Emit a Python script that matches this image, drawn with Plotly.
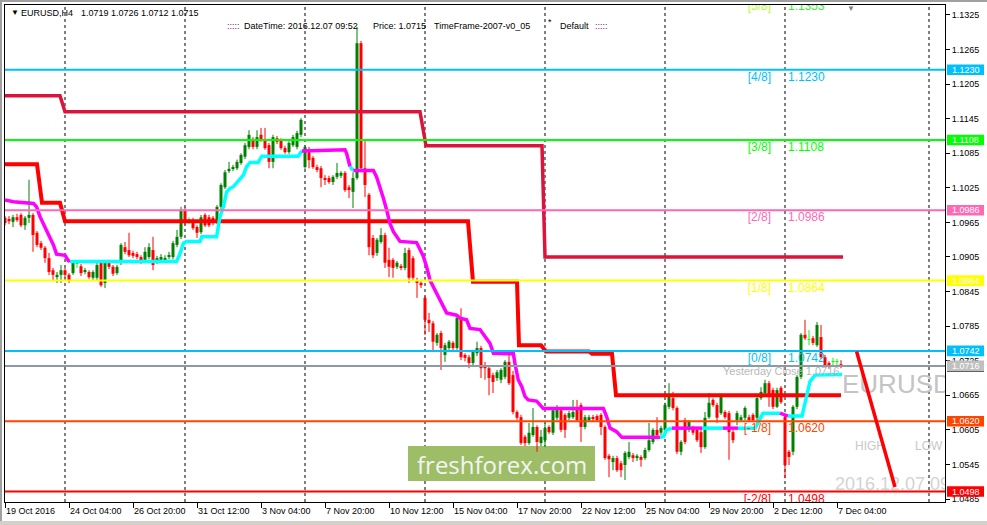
import plotly.graph_objects as go

# ---------------- data (EURUSD H4, bar index 0 = 19 Oct 2016 12:00) ----------------
bar_open = [1.0973,1.0971,1.0966,1.0974,1.0978,1.0960,1.0973,1.0978,1.0947,1.0929,
1.0921,1.0903,1.0882,1.0870,1.0874,1.0882,1.0874,1.0877,1.0893,1.0889,
1.0879,1.0879,1.0869,1.0869,1.0895,1.0860,1.0896,1.0888,1.0877,1.0895,
1.0922,1.0917,1.0912,1.0910,1.0905,1.0900,1.0905,1.0917,1.0896,1.0900,
1.0900,1.0905,1.0905,1.0926,1.0940,1.0987,1.0968,1.0969,1.0957,1.0948,
1.0978,1.0974,1.0973,1.0966,1.0992,1.1026,1.1054,1.1058,1.1059,1.1068,
1.1079,1.1096,1.1108,1.1096,1.1117,1.1108,1.1099,1.1070,1.1111,1.1108,
1.1094,1.1087,1.1099,1.1096,1.1117,1.1061,1.1087,1.1077,1.1061,1.1059,
1.1042,1.1042,1.1035,1.1044,1.1046,1.1051,1.1026,1.1018,1.1042,1.1276,
1.1059,1.1013,1.0938,1.0912,1.0931,1.0943,1.0900,1.0900,1.0888,1.0889,
1.0886,1.0917,1.0903,1.0865,1.0860,1.0834,1.0796,1.0790,1.0756,1.0773,
1.0735,1.0747,1.0756,1.0747,1.0799,1.0735,1.0731,1.0721,1.0738,1.0747,
1.0716,1.0712,1.0700,1.0695,1.0692,1.0697,1.0723,1.0700,1.0636,1.0627,
1.0593,1.0582,1.0596,1.0610,1.0582,1.0587,1.0610,1.0600,1.0626,1.0639,
1.0631,1.0626,1.0627,1.0643,1.0648,1.0610,1.0622,1.0627,1.0629,1.0631,
1.0610,1.0560,1.0549,1.0556,1.0547,1.0544,1.0558,1.0561,1.0556,1.0558,
1.0556,1.0570,1.0584,1.0605,1.0600,1.0605,1.0645,1.0660,1.0643,1.0567,
1.0622,1.0605,1.0608,1.0605,1.0601,1.0575,1.0627,1.0657,1.0648,1.0634,
1.0636,1.0634,1.0601,1.0622,1.0622,1.0626,1.0627,1.0631,1.0626,1.0660,
1.0669,1.0686,1.0674,1.0645,1.0678,1.0627,1.0567,1.0567,1.0645,1.0697,
1.0770,1.0761,1.0764,1.0752,1.0766,1.0731,1.0721,1.0723,1.0723,1.0719]
bar_high = [1.0976,1.0976,1.0978,1.0980,1.0981,1.0976,1.1039,1.0981,1.0950,1.0933,
1.0924,1.0912,1.0886,1.0879,1.0891,1.0886,1.0877,1.0898,1.0898,1.0893,
1.0886,1.0882,1.0882,1.0895,1.0896,1.0898,1.0900,1.0891,1.0891,1.0929,
1.0931,1.0947,1.0916,1.0914,1.0908,1.0922,1.0929,1.0940,1.0907,1.0910,
1.0908,1.0914,1.0933,1.0952,1.0992,1.0992,1.0974,1.0973,1.0960,1.0978,
1.0981,1.0978,1.0976,1.0995,1.1033,1.1056,1.1070,1.1065,1.1074,1.1085,
1.1103,1.1125,1.1113,1.1125,1.1129,1.1129,1.1103,1.1117,1.1115,1.1111,
1.1098,1.1106,1.1117,1.1124,1.1146,1.1099,1.1096,1.1080,1.1065,1.1063,
1.1047,1.1046,1.1047,1.1068,1.1054,1.1054,1.1030,1.1052,1.1304,1.1280,
1.1108,1.1016,1.0943,1.0938,1.0955,1.0947,1.0921,1.0903,1.0898,1.0893,
1.0921,1.0921,1.0907,1.0869,1.0863,1.0837,1.0808,1.0794,1.0773,1.0777,
1.0756,1.0761,1.0759,1.0803,1.0816,1.0738,1.0735,1.0744,1.0758,1.0751,
1.0723,1.0716,1.0704,1.0709,1.0712,1.0726,1.0740,1.0707,1.0639,1.0631,
1.0596,1.0617,1.0643,1.0613,1.0605,1.0617,1.0613,1.0643,1.0648,1.0643,
1.0634,1.0638,1.0657,1.0657,1.0652,1.0631,1.0631,1.0631,1.0632,1.0634,
1.0613,1.0563,1.0560,1.0560,1.0551,1.0568,1.0584,1.0565,1.0563,1.0561,
1.0574,1.0617,1.0608,1.0627,1.0612,1.0652,1.0686,1.0671,1.0646,1.0587,
1.0626,1.0622,1.0612,1.0608,1.0608,1.0636,1.0669,1.0660,1.0652,1.0665,
1.0639,1.0638,1.0605,1.0638,1.0631,1.0646,1.0631,1.0634,1.0664,1.0679,
1.0692,1.0690,1.0678,1.0678,1.0681,1.0631,1.0570,1.0648,1.0700,1.0773,
1.0796,1.0778,1.0768,1.0792,1.0787,1.0735,1.0724,1.0730,1.0728,1.0726]
bar_low = [1.0960,1.0962,1.0957,1.0966,1.0957,1.0952,1.0964,1.0914,1.0922,1.0917,
1.0895,1.0874,1.0865,1.0860,1.0860,1.0869,1.0860,1.0874,1.0886,1.0872,
1.0875,1.0867,1.0865,1.0865,1.0853,1.0851,1.0884,1.0872,1.0874,1.0891,
1.0910,1.0905,1.0903,1.0901,1.0893,1.0896,1.0901,1.0882,1.0893,1.0896,
1.0896,1.0901,1.0901,1.0922,1.0936,1.0960,1.0962,1.0952,1.0938,1.0945,
1.0957,1.0957,1.0960,1.0962,1.0988,1.1023,1.1051,1.1054,1.1056,1.1065,
1.1075,1.1092,1.1092,1.1092,1.1105,1.1091,1.1059,1.1059,1.1101,1.1091,
1.1084,1.1084,1.1096,1.1092,1.1113,1.1058,1.1059,1.1058,1.1052,1.1026,
1.1030,1.1032,1.1030,1.1040,1.1042,1.1018,1.1007,1.0990,1.1039,1.1052,
1.1009,1.0908,1.0903,1.0907,1.0928,1.0886,1.0870,1.0869,1.0884,1.0882,
1.0882,1.0860,1.0865,1.0834,1.0851,1.0770,1.0775,1.0740,1.0751,1.0709,
1.0723,1.0744,1.0742,1.0744,1.0726,1.0724,1.0712,1.0716,1.0733,1.0695,
1.0692,1.0665,1.0669,1.0690,1.0686,1.0693,1.0683,1.0632,1.0622,1.0579,
1.0577,1.0579,1.0593,1.0567,1.0577,1.0575,1.0598,1.0596,1.0622,1.0601,
1.0591,1.0622,1.0624,1.0619,1.0584,1.0606,1.0619,1.0620,1.0619,1.0596,
1.0553,1.0523,1.0535,1.0532,1.0523,1.0518,1.0554,1.0549,1.0551,1.0541,
1.0553,1.0567,1.0580,1.0593,1.0596,1.0601,1.0641,1.0639,1.0563,1.0561,
1.0580,1.0601,1.0596,1.0584,1.0565,1.0572,1.0624,1.0645,1.0617,1.0631,
1.0624,1.0553,1.0582,1.0613,1.0619,1.0622,1.0619,1.0619,1.0622,1.0657,
1.0665,1.0645,1.0641,1.0643,1.0650,1.0521,1.0544,1.0561,1.0641,1.0693,
1.0761,1.0752,1.0752,1.0749,1.0728,1.0714,1.0711,1.0716,1.0716,1.0712]
bar_close = [1.0964,1.0967,1.0974,1.0969,1.0960,1.0973,1.0978,1.0943,1.0926,1.0921,
1.0903,1.0879,1.0874,1.0874,1.0882,1.0874,1.0865,1.0895,1.0893,1.0877,
1.0882,1.0870,1.0879,1.0891,1.0856,1.0895,1.0888,1.0876,1.0888,1.0926,
1.0914,1.0908,1.0907,1.0905,1.0896,1.0914,1.0922,1.0891,1.0903,1.0905,
1.0903,1.0908,1.0929,1.0940,1.0987,1.0966,1.0968,1.0955,1.0947,1.0974,
1.0960,1.0960,1.0964,1.0992,1.1030,1.1052,1.1058,1.1061,1.1070,1.1082,
1.1099,1.1117,1.1096,1.1113,1.1108,1.1094,1.1070,1.1113,1.1105,1.1094,
1.1087,1.1103,1.1113,1.1120,1.1143,1.1096,1.1073,1.1061,1.1056,1.1042,
1.1039,1.1035,1.1044,1.1051,1.1051,1.1021,1.1021,1.1042,1.1276,1.1059,
1.1030,1.0922,1.0908,1.0935,1.0943,1.0895,1.0888,1.0886,1.0895,1.0886,
1.0912,1.0869,1.0869,1.0860,1.0856,1.0796,1.0790,1.0758,1.0770,1.0747,
1.0752,1.0758,1.0747,1.0799,1.0731,1.0730,1.0721,1.0740,1.0747,1.0712,
1.0712,1.0695,1.0688,1.0705,1.0709,1.0723,1.0686,1.0636,1.0626,1.0582,
1.0582,1.0600,1.0610,1.0584,1.0593,1.0608,1.0601,1.0639,1.0643,1.0605,
1.0605,1.0634,1.0636,1.0622,1.0610,1.0627,1.0627,1.0624,1.0622,1.0610,
1.0556,1.0554,1.0556,1.0535,1.0535,1.0565,1.0567,1.0556,1.0560,1.0553,
1.0570,1.0587,1.0605,1.0596,1.0608,1.0648,1.0665,1.0643,1.0567,1.0584,
1.0584,1.0619,1.0600,1.0587,1.0575,1.0626,1.0652,1.0648,1.0626,1.0662,
1.0627,1.0601,1.0587,1.0634,1.0627,1.0643,1.0622,1.0622,1.0660,1.0671,
1.0686,1.0662,1.0645,1.0674,1.0653,1.0544,1.0558,1.0645,1.0697,1.0770,
1.0764,1.0761,1.0756,1.0787,1.0731,1.0716,1.0714,1.0723,1.0723,1.0715]

x_label_bars = [0, 16, 32, 48, 64, 80, 96, 112, 128, 144, 160, 176, 192, 208]
x_label_text = ["19 Oct 2016", "24 Oct 04:00", "26 Oct 20:00", "31 Oct 12:00", "3 Nov 04:00",
                "7 Nov 20:00", "10 Nov 12:00", "15 Nov 04:00", "17 Nov 20:00", "22 Nov 12:00",
                "25 Nov 04:00", "29 Nov 20:00", "2 Dec 12:00", "7 Dec 04:00"]
week_start_bars = [15, 45, 75, 105, 135, 165, 195, 231]
y_tick_vals = [1.1325, 1.1265, 1.1205, 1.1145, 1.1085, 1.1025, 1.0965, 1.0905, 1.0845,
               1.0785, 1.0725, 1.0665, 1.0605, 1.0545, 1.0485]

mm_levels = [1.1353, 1.1230, 1.1108, 1.0986, 1.0864, 1.0742, 1.0620, 1.0498]
mm_names = ["[5/8]", "[4/8]", "[3/8]", "[2/8]", "[1/8]", "[0/8]", "[-1/8]", "[-2/8]"]
mm_colors = ["#33EE33", "#00BFFF", "#00FF00", "#FF69B4", "#FFFF00", "#00BFFF", "#FF4500", "#FF0000"]
mm_name_colors = ["#B4FF20", "#00BFFF", "#00FF00", "#FF69B4", "#FFFF00", "#00BFFF", "#FF4500", "#FF0000"]
yesterday_close = 1.0716
bid_price = 1.0715
header_ohlc = "1.0719 1.0726 1.0712 1.0715"

crimson_x = [0, 13.75, 15, 103.75, 105.25, 134.25, 135, 209.5]
crimson_y = [1.1185, 1.1185, 1.1157, 1.1157, 1.1098, 1.1098, 1.0905, 1.0905]
redstep_x = [0, 8, 9.25, 13.75, 15, 115.75, 117, 128, 128.5, 134, 135.25, 146, 146.75, 151.75, 152.75, 209]
redstep_y = [1.1066, 1.1066, 1.0999, 1.0999, 1.0967, 1.0967, 1.0862, 1.0862, 1.0752, 1.0752,
             1.0741, 1.0741, 1.0737, 1.0737, 1.0665, 1.0665]

trend_x = [0, 2.1, 7.1, 7.9, 8.75, 9.6, 10.4, 11.25, 12.1, 12.9, 15, 15.8, 16.25,
           41.25, 42.9, 43.75, 44.6, 45.4, 48.75, 49.2, 52.9, 53.75, 54.6, 55.4, 56.25, 57.1,
           57.9, 58.75, 59.6, 60.4, 61.25, 63.3, 64.2, 73.3, 74.2,
           85, 85.4, 86.25, 87.1, 88.5, 92.1, 92.9, 93.75, 94.6, 95.4, 96.25, 97.1, 97.9, 98.75,
           102.9, 103.75, 104.6, 105.4, 106.25, 107.1, 107.9, 108.75, 109.6, 110.4, 112.9, 113.75,
           115.4, 116.25, 118.75, 119.6, 120.8, 121.25, 122.1, 127.1, 127.5, 128.3, 129.2, 130,
           130.8, 132.9, 134.2, 134.6, 149.6, 150.4, 151.25, 152.9, 154.2,
           163.75, 164.6, 165.4, 166.75, 174.25, 179.5, 183.25, 187.5, 189.5, 193.75, 195, 195.75,
           199.25, 201.25, 202.5, 209.25]
trend_y = [1.1004, 1.1001, 1.0998, 1.0992, 1.0975, 1.0963, 1.0952, 1.0937, 1.0926, 1.0910, 1.0908, 1.0899, 1.0897,
           1.0897, 1.0897, 1.0911, 1.0929, 1.0932, 1.0932, 1.0940, 1.0940, 1.0975, 1.0992, 1.1018, 1.1024, 1.1027,
           1.1033, 1.1039, 1.1047, 1.1062, 1.1069, 1.1069, 1.1080, 1.1080, 1.1089,
           1.1091, 1.1085, 1.1062, 1.1055, 1.1055, 1.1055, 1.1044, 1.1027, 1.1007, 1.0987, 1.0963, 1.0949, 1.0940, 1.0932,
           1.0930, 1.0917, 1.0906, 1.0888, 1.0865, 1.0853, 1.0842, 1.0830, 1.0816, 1.0808, 1.0804, 1.0799,
           1.0796, 1.0781, 1.0779, 1.0770, 1.0758, 1.0755, 1.0738, 1.0737, 1.0720, 1.0692, 1.0680, 1.0663,
           1.0657, 1.0655, 1.0645, 1.0642, 1.0642, 1.0628, 1.0608, 1.0602, 1.0592,
           1.0592, 1.0593, 1.0605, 1.0608, 1.0608, 1.0608, 1.0608, 1.0608, 1.0634, 1.0634, 1.0630, 1.0629,
           1.0629, 1.0689, 1.0700, 1.0701]
# direction of each segment between consecutive vertices (d = down/magenta, u = up/cyan)
trend_dir = ("dddddddddddd" + "u" + "uuuuuuuuuuuuuuuuuuuuu" +
             "ddd" + "u" + "dddddddddddddddddddddddddddddddddddddddddddd" +
             "uuu" + "d" + "u" + "d" + "uuu" + "dd" + "uuuu")

diag_x = [212.9, 222.5]
diag_y = [1.0741, 1.0506]

# ---------------- geometry helpers (pixel -> paper) ----------------
W, H = 987, 525
ML, MR, MT, MB = 5, 42, 5, 23
PW, PH = W - ML - MR, H - MT - MB
Y0, Y1 = 1.04798, 1.13423
X0, X1 = 0, 235


def pxx(p):
    return (p - ML) / PW


def pxy(p):
    return (H - MB - p) / PH


FONT = "Arial, Liberation Sans, sans-serif"
SMALL = 9
fig = go.Figure()

# ---------------- candles ----------------
n = len(bar_close)
groups = {"up": ([], [], [], "#008000"), "dn": ([], [], [], "#FF0000"), "doji": ([], [], [], "#00FF00")}
wick = {"up": ([], []), "dn": ([], []), "doji": ([], [])}
for i in range(n):
    o, h, l, c = bar_open[i], bar_high[i], bar_low[i], bar_close[i]
    k = "doji" if o == c else ("up" if c > o else "dn")
    xs, bases, hs, _ = groups[k]
    xs.append(i)
    bases.append(min(o, c))
    hs.append(max(abs(c - o), 0.00012))
    wick[k][0].extend([i, i, None])
    wick[k][1].extend([l, h, None])

for k in ["up", "dn", "doji"]:
    wx, wy = wick[k]
    fig.add_trace(go.Scatter(x=wx, y=wy, mode="lines", line=dict(color=groups[k][3], width=1),
                             hoverinfo="skip", showlegend=False))
for k in ["up", "dn", "doji"]:
    xs, bases, hs, col = groups[k]
    fig.add_trace(go.Bar(x=xs, y=hs, base=bases, width=0.75, marker=dict(color=col, line=dict(width=0)),
                         hoverinfo="skip", showlegend=False))

# ---------------- indicator lines ----------------
fig.add_trace(go.Scatter(x=crimson_x, y=crimson_y, mode="lines", line=dict(color="#DC143C", width=3.5),
                         hoverinfo="skip", showlegend=False))
fig.add_trace(go.Scatter(x=redstep_x, y=redstep_y, mode="lines", line=dict(color="#FF0000", width=4),
                         hoverinfo="skip", showlegend=False))

runs = []
cur = trend_dir[0]
rx, ry = [trend_x[0]], [trend_y[0]]
for i in range(1, len(trend_x)):
    d = trend_dir[i - 1]
    if d != cur:
        runs.append((cur, rx, ry))
        rx, ry = [trend_x[i - 1]], [trend_y[i - 1]]
        cur = d
    rx.append(trend_x[i])
    ry.append(trend_y[i])
runs.append((cur, rx, ry))
for d, rx, ry in runs:
    fig.add_trace(go.Scatter(x=rx, y=ry, mode="lines",
                             line=dict(color="#00FFFF" if d == "u" else "#FF00FF", width=3.5),
                             hoverinfo="skip", showlegend=False))

# ---------------- texts inside the chart (clipped to the plot area) ----------------
lab_off = 0.0014
fig.add_trace(go.Scatter(x=[191.5] * len(mm_levels), y=[v - lab_off for v in mm_levels], mode="text",
                         text=mm_names, textposition="middle left",
                         textfont=dict(family=FONT, size=12, color=mm_name_colors),
                         cliponaxis=True, hoverinfo="skip", showlegend=False))
fig.add_trace(go.Scatter(x=[195.75] * len(mm_levels), y=[v - lab_off for v in mm_levels], mode="text",
                         text=[f"{v:.4f}" for v in mm_levels], textposition="middle right",
                         textfont=dict(family=FONT, size=12, color=mm_colors),
                         cliponaxis=True, hoverinfo="skip", showlegend=False))
fig.add_trace(go.Scatter(x=[179.5], y=[yesterday_close - 0.00107], mode="text",
                         text=[f"Yesterday Close {yesterday_close:.4f}"], textposition="middle right",
                         textfont=dict(family=FONT, size=11, color="#B8B8B8"),
                         cliponaxis=True, hoverinfo="skip", showlegend=False))
fig.add_trace(go.Scatter(x=[209.25], y=[1.0681], mode="text", text=["EURUSD"], textposition="middle right",
                         textfont=dict(family=FONT, size=26, color="#C4C4C4"),
                         cliponaxis=True, hoverinfo="skip", showlegend=False))
fig.add_trace(go.Scatter(x=[212.5, 227.5], y=[1.0575, 1.0575], mode="text", text=["HIGH", "LOW"],
                         textposition="middle right", textfont=dict(family=FONT, size=12, color="#C8C8C8"),
                         cliponaxis=True, hoverinfo="skip", showlegend=False))
fig.add_trace(go.Scatter(x=[207.5], y=[1.0509], mode="text", text=["2016.12.07 09:52"],
                         textposition="middle right", textfont=dict(family=FONT, size=18, color="#D3D3D3"),
                         cliponaxis=True, hoverinfo="skip", showlegend=False))

# ---------------- shapes ----------------
shapes = []
for b in week_start_bars:
    shapes.append(dict(type="line", xref="x", yref="paper", x0=b, x1=b, y0=0, y1=1, layer="below",
                       line=dict(color="black", width=1, dash="3px,3px")))
# watermark box
shapes.append(dict(type="rect", xref="paper", yref="paper", x0=pxx(408), x1=pxx(595), y0=pxy(481), y1=pxy(446),
                   fillcolor="#9DBE66", line=dict(width=0), layer="below"))
# level lines
for v, col in zip(mm_levels, mm_colors):
    shapes.append(dict(type="line", xref="paper", yref="y", x0=0, x1=1, y0=v, y1=v, layer="above",
                       line=dict(color=col, width=2)))
shapes.append(dict(type="line", xref="paper", yref="y", x0=0, x1=1, y0=yesterday_close, y1=yesterday_close,
                   layer="above", line=dict(color="#8C99A6", width=2)))
shapes.append(dict(type="line", xref="x", yref="y", x0=diag_x[0], x1=diag_x[1], y0=diag_y[0], y1=diag_y[1],
                   layer="above", line=dict(color="#FF0000", width=3.5)))
# price tags on the axis
tag_h = 0.00092
tags = [(bid_price, "#000000", "")]
for v, col in zip(mm_levels[1:], mm_colors[1:]):
    tags.append((v, col, f"{v:.4f}"))
tags.append((yesterday_close, "#C0C0C0", f"{yesterday_close:.4f}"))
annotations = []
for v, col, txt in tags:
    shapes.append(dict(type="rect", xref="paper", yref="y", x0=pxx(947), x1=pxx(984), y0=v - tag_h, y1=v + tag_h,
                       fillcolor=col, line=dict(width=0), layer="above"))
    if txt:
        annotations.append(dict(xref="paper", yref="y", x=pxx(965.5), y=v, text=txt, showarrow=False,
                                font=dict(family=FONT, size=SMALL, color="white"), xanchor="center",
                                yanchor="middle"))
# window frame
shapes.append(dict(type="rect", xref="paper", yref="paper", x0=pxx(0), x1=pxx(2), y0=pxy(525), y1=pxy(0),
                   fillcolor="#A0A0A0", line=dict(width=0), layer="above"))
shapes.append(dict(type="rect", xref="paper", yref="paper", x0=pxx(0), x1=pxx(987), y0=pxy(2), y1=pxy(0),
                   fillcolor="#A0A0A0", line=dict(width=0), layer="above"))
shapes.append(dict(type="rect", xref="paper", yref="paper", x0=pxx(0), x1=pxx(987), y0=pxy(525), y1=pxy(521),
                   fillcolor="#D4D0C8", line=dict(width=0), layer="above"))

# ---------------- header texts ----------------
def note(px_, py_, txt, color="black", size=SMALL, anchor="left"):
    annotations.append(dict(xref="paper", yref="paper", x=pxx(px_), y=pxy(py_), text=txt, showarrow=False,
                            font=dict(family=FONT, size=size, color=color), xanchor=anchor, yanchor="middle"))


note(9, 13, "▼", size=8)
note(19, 13, "EURUSD,H4")
note(79, 13, header_ohlc)
note(225, 26, ":::::", color="#800080")
note(242, 26, "DateTime: 2016.12.07 09:52")
note(371, 26, f"Price: {bid_price:.4f}")
note(432, 26, "TimeFrame-2007-v0_05")
note(546, 22, "*", size=9)
note(558, 26, "Default")
note(593, 26, ":::::", color="#800080")
note(851, 8, "▼", color="#808080", size=8, anchor="center")
note(501.5, 464, "freshforex.com", color="#F4F4F4", size=24, anchor="center")
annotations[-1]["font"]["family"] = "Open Sans, sans-serif"

fig.update_layout(
    width=W, height=H, margin=dict(l=ML, r=MR, t=MT, b=MB, autoexpand=False),
    paper_bgcolor="white", plot_bgcolor="white", barmode="overlay", showlegend=False,
    shapes=shapes, annotations=annotations,
    xaxis=dict(range=[X0, X1], showgrid=False, zeroline=False, showline=True, linecolor="black", linewidth=1,
               mirror=True, tickmode="array", tickvals=x_label_bars, ticktext=x_label_text, tickangle=0,
               ticks="outside", ticklen=5, tickcolor="black", ticklabelposition="outside right",
               tickfont=dict(family=FONT, size=SMALL, color="black"), fixedrange=True, automargin=False),
    yaxis=dict(range=[Y0, Y1], side="right", showgrid=False, zeroline=False, showline=True, linecolor="black",
               linewidth=1, mirror=True, tickmode="array", tickvals=y_tick_vals,
               ticktext=[f"{v:.4f}" for v in y_tick_vals], ticks="outside", ticklen=4, tickcolor="black",
               tickfont=dict(family=FONT, size=SMALL, color="black"), fixedrange=True, automargin=False),
)

fig.write_html("out.html", config={"displayModeBar": False},
               post_script="document.body.style.margin='0';document.body.style.padding='0';")
